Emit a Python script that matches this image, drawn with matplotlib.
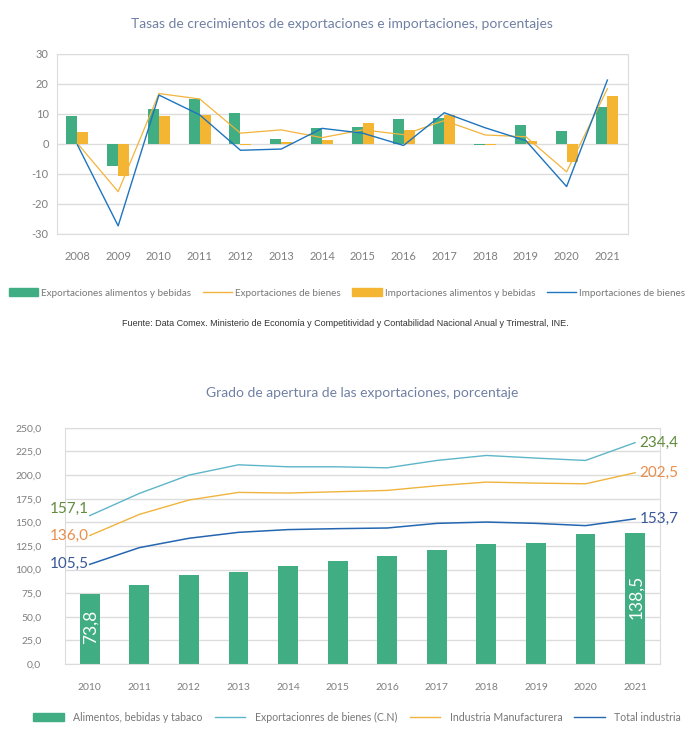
import numpy as np
import matplotlib
matplotlib.use('Agg')
import matplotlib.pyplot as plt
from matplotlib.patches import Patch
from matplotlib.lines import Line2D

plt.rcParams['font.family'] = ['Lato', 'DejaVu Sans']
plt.rcParams['axes.unicode_minus'] = False

# %% data, chart 1 (growth rates, %)
years1 = ['2008', '2009', '2010', '2011', '2012', '2013', '2014',
          '2015', '2016', '2017', '2018', '2019', '2020', '2021']
exp_food = [9.4, -7.2, 11.8, 14.9, 10.4, 1.7, 5.4, 5.7, 8.2, 8.8, -0.3, 6.4, 4.4, 12.2]
imp_food = [4.1, -10.6, 9.4, 9.8, -0.3, 0.7, 1.4, 7.0, 4.7, 9.8, -0.2, 1.1, -5.9, 16.0]
exp_goods = [0.2, -15.9, 16.8, 15.0, 3.6, 4.7, 2.1, 4.7, 3.1, 7.8, 3.0, 2.4, -9.3, 18.4]
imp_goods = [-0.3, -27.3, 16.3, 9.7, -2.1, -1.7, 5.2, 3.6, -0.5, 10.4, 5.4, 1.1, -14.2, 21.3]

# %% data, chart 2 (openness degree, %)
years2 = ['2010', '2011', '2012', '2013', '2014', '2015',
          '2016', '2017', '2018', '2019', '2020', '2021']
food_bev = [73.8, 83.8, 94.0, 97.9, 103.5, 108.8, 114.4, 120.4, 127.5, 128.2, 137.3, 138.5]
exp_cn = [157.1, 180.6, 200.0, 210.9, 208.8, 208.8, 207.7, 215.5, 220.8, 218.0, 215.5, 234.4]
manuf = [136.0, 158.4, 173.6, 181.7, 181.0, 182.4, 183.8, 188.7, 192.6, 191.5, 190.8, 202.5]
total_ind = [105.5, 123.2, 133.1, 139.4, 142.3, 143.3, 144.0, 148.9, 150.3, 148.9, 146.5, 153.7]

GREEN = '#41AD83'
ORANGE = '#F4B533'
BLUE = '#1E74BE'
CYAN = '#5DB6C8'
GRID = '#DCDCDC'
TICK = '#7F7F7F'
TITLE = '#7080A4'

fig = plt.figure(figsize=(6.91, 7.39), dpi=100)

# %% chart 1
ax1 = fig.add_axes([0.0825, 0.6834, 0.826, 0.2436])
x1 = np.arange(len(years1))
w = 0.27
ax1.bar(x1 - w / 2, exp_food, w, color=GREEN, zorder=2)
ax1.bar(x1 + w / 2, imp_food, w, color=ORANGE, zorder=2)
ax1.plot(x1, exp_goods, color='#F2B43C', lw=0.9, zorder=3)
ax1.plot(x1, imp_goods, color=BLUE, lw=1.0, zorder=3)
ax1.set_xlim(-0.5, len(years1) - 0.5)
ax1.set_ylim(-30, 30)
ax1.set_yticks(range(-30, 31, 10))
ax1.set_xticks(x1)
ax1.set_xticklabels(years1)
ax1.grid(axis='y', color=GRID, lw=1, zorder=0)
ax1.tick_params(length=0, labelsize=8, colors=TICK, pad=12)
ax1.tick_params(axis='y', pad=6)
for s in ax1.spines.values():
    s.set_color(GRID)
ax1.set_title('Tasas de crecimientos de exportaciones e importaciones, porcentajes',
              fontsize=10, color=TITLE, pad=19)

h1 = [Patch(color=GREEN), Line2D([], [], color='#F2B43C', lw=1),
      Patch(color=ORANGE), Line2D([], [], color=BLUE, lw=1)]
l1 = ['Exportaciones alimentos y bebidas', 'Exportaciones de bienes',
      'Importaciones alimentos y bebidas', 'Importaciones de bienes']
fig.legend(h1, l1, loc='center', bbox_to_anchor=(0.502, 1 - 293 / 739), ncol=4,
           frameon=False, fontsize=7.1, labelcolor='#777777', handlelength=3.0,
           handleheight=0.9, handletextpad=0.3, columnspacing=1.15)

fig.text(0.5, 1 - 324 / 739,
         'Fuente: Data Comex. Ministerio de Economía y Competitividad y Contabilidad '
         'Nacional Anual y Trimestral, INE.',
         ha='center', va='center', fontsize=6.5, color='#333333',
         family='Liberation Sans')

# %% chart 2
ax2 = fig.add_axes([0.094, 0.1015, 0.861, 0.3195])
x2 = np.arange(len(years2))
ax2.bar(x2, food_bev, 0.4, color=GREEN, zorder=2)
ax2.plot(x2, exp_cn, color=CYAN, lw=1.0, zorder=3)
ax2.plot(x2, manuf, color='#F0B43E', lw=1.0, zorder=3)
ax2.plot(x2, total_ind, color='#2466B0', lw=1.1, zorder=3)
ax2.set_xlim(-0.5, len(years2) - 0.5)
ax2.set_ylim(0, 250)
ax2.set_yticks(np.arange(0, 251, 25))
ax2.set_yticklabels([f'{v:.1f}'.replace('.', ',') for v in np.arange(0, 251, 25)])
ax2.set_xticks(x2)
ax2.set_xticklabels(years2)
ax2.grid(axis='y', color=GRID, lw=1, zorder=0)
ax2.tick_params(length=0, labelsize=7.5, colors=TICK, pad=14)
ax2.tick_params(axis='y', pad=17)
for s in ax2.spines.values():
    s.set_color(GRID)
ax2.set_title('Grado de apertura de las exportaciones, porcentaje',
              fontsize=10, color=TITLE, pad=22)

fmt = lambda v: f'{v:.1f}'.replace('.', ',')
lab_cols = [(exp_cn, '#628C3C', 5), (manuf, '#E88E4C', 0), (total_ind, '#3A5898', 0)]
for ser, c, dy in lab_cols:
    ax2.annotate(fmt(ser[0]), (x2[0], ser[0]), xytext=(-1, dy), textcoords='offset points',
                 ha='right', va='center', fontsize=11, color=c, annotation_clip=False)
    ax2.annotate(fmt(ser[-1]), (x2[-1], ser[-1]), xytext=(3, 0), textcoords='offset points',
                 ha='left', va='center', fontsize=11, color=c, annotation_clip=False)
ax2.text(x2[0] + 0.02, 39, fmt(food_bev[0]), rotation=90, ha='center', va='center',
         fontsize=12.5, color='white', zorder=4)
ax2.text(x2[-1] + 0.02, 71, fmt(food_bev[-1]), rotation=90, ha='center', va='center',
         fontsize=12.5, color='white', zorder=4)

h2 = [Patch(color=GREEN), Line2D([], [], color=CYAN, lw=1),
      Line2D([], [], color='#F0B43E', lw=1), Line2D([], [], color='#2466B0', lw=1)]
l2 = ['Alimentos, bebidas y tabaco', 'Exportacionres de bienes (C.N)',
      'Industria Manufacturera', 'Total industria']
fig.legend(h2, l2, loc='center', bbox_to_anchor=(0.517, 1 - 717 / 739), ncol=4,
           frameon=False, fontsize=7.6, labelcolor='#777777', handlelength=2.9,
           handleheight=0.9, handletextpad=0.9, columnspacing=1.15)

fig.savefig('out.png', dpi=100, facecolor='white')
